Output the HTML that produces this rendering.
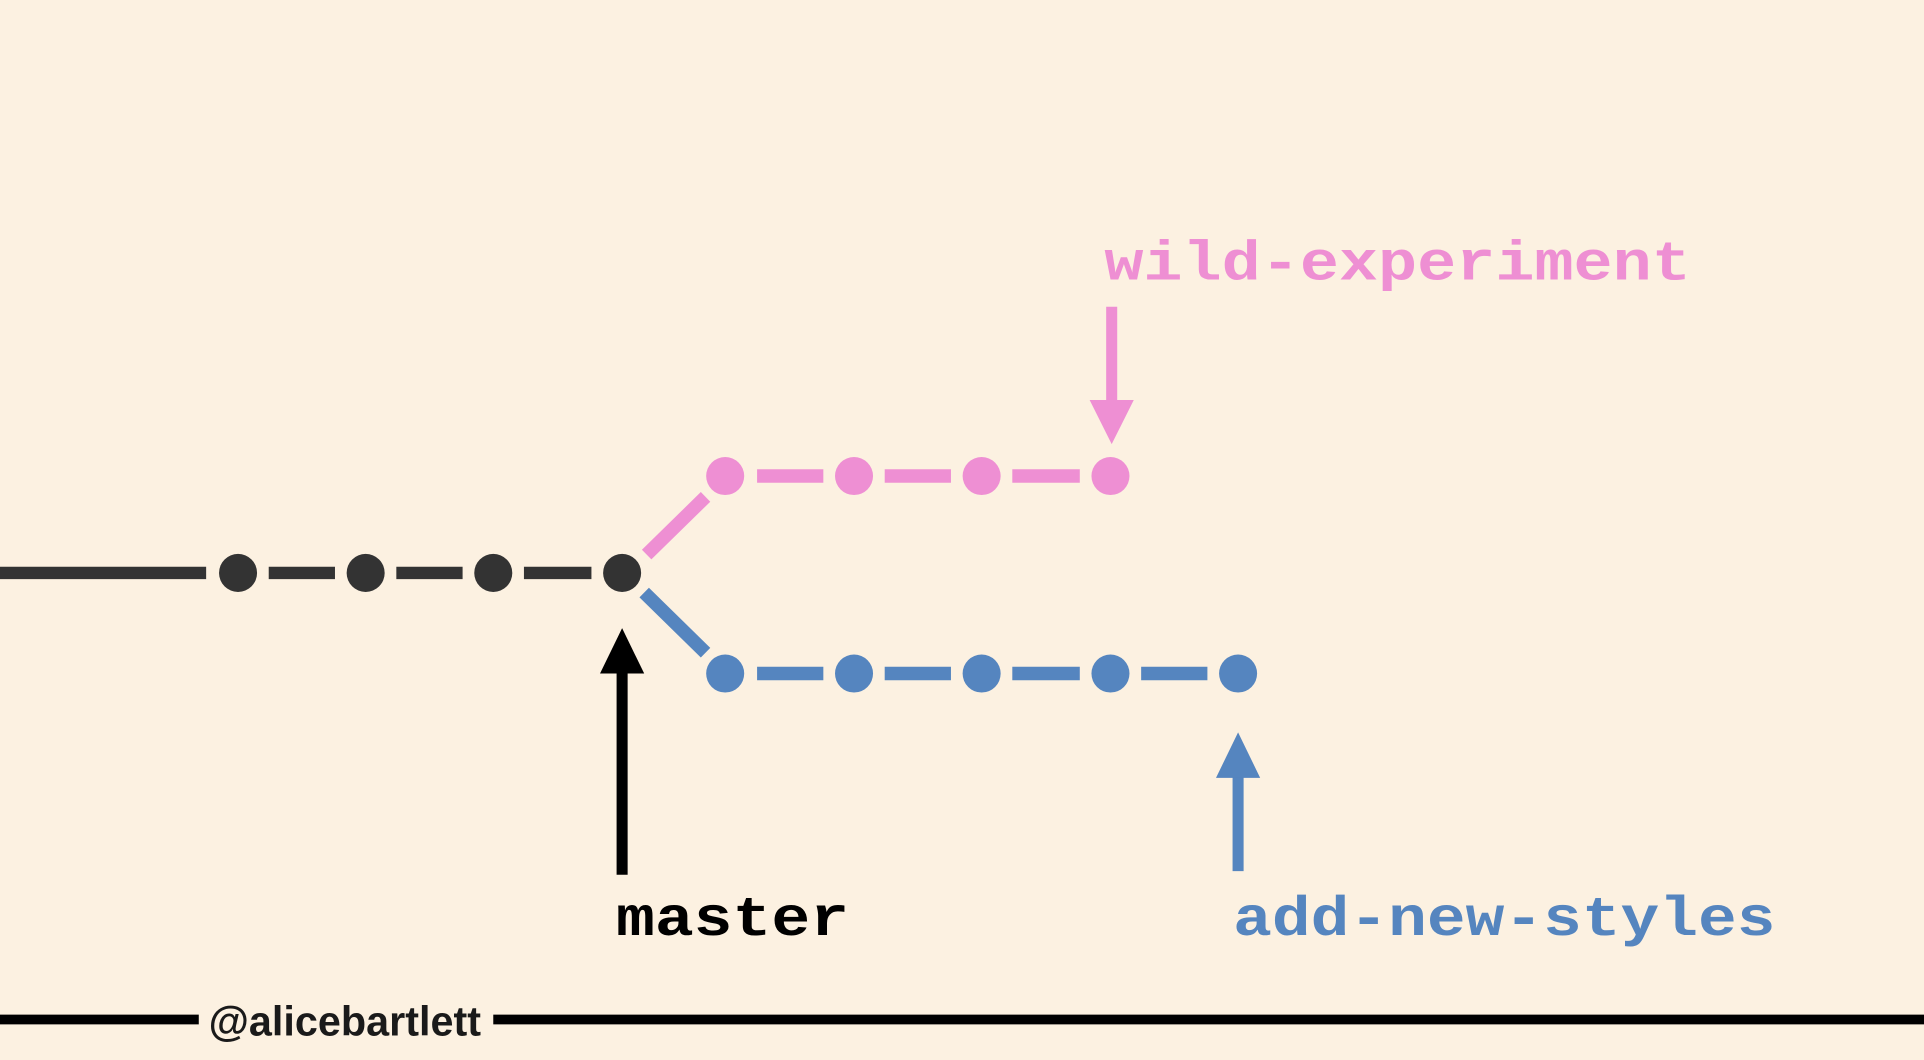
<!DOCTYPE html>
<html><head><meta charset="utf-8"><style>
html,body{margin:0;padding:0;background:#fcf1e1;}
svg{display:block;}
</style></head><body>
<svg width="1924" height="1060" viewBox="0 0 1568 864" preserveAspectRatio="none" xmlns="http://www.w3.org/2000/svg">
<rect width="1568" height="864" fill="#fcf1e1"/>
<g stroke="#333" stroke-width="10">
<line x1="0" y1="467" x2="168" y2="467"/>
<line x1="219" y1="467" x2="273" y2="467"/>
<line x1="323" y1="467" x2="377" y2="467"/>
<line x1="427" y1="467" x2="482" y2="467"/>
</g>
<g fill="#333">
<circle cx="194" cy="467" r="15.5"/><circle cx="298" cy="467" r="15.5"/>
<circle cx="402" cy="467" r="15.5"/><circle cx="507" cy="467" r="15.5"/>
</g>
<g stroke="#ee8fd3" stroke-width="11">
<line x1="527" y1="452" x2="575" y2="405"/>
<line x1="617" y1="388" x2="671" y2="388"/>
<line x1="721" y1="388" x2="775" y2="388"/>
<line x1="825" y1="388" x2="880" y2="388"/>
</g>
<g fill="#ee8fd3">
<circle cx="591" cy="388" r="15.5"/><circle cx="696" cy="388" r="15.5"/>
<circle cx="800" cy="388" r="15.5"/><circle cx="905" cy="388" r="15.5"/>
</g>
<g stroke="#5585bf" stroke-width="11">
<line x1="525" y1="483" x2="575" y2="532"/>
<line x1="617" y1="549" x2="671" y2="549"/>
<line x1="721" y1="549" x2="775" y2="549"/>
<line x1="825" y1="549" x2="880" y2="549"/>
<line x1="930" y1="549" x2="984" y2="549"/>
</g>
<g fill="#5585bf">
<circle cx="591" cy="549" r="15.5"/><circle cx="696" cy="549" r="15.5"/>
<circle cx="800" cy="549" r="15.5"/><circle cx="905" cy="549" r="15.5"/>
<circle cx="1009" cy="549" r="15.5"/>
</g>
<line x1="507" y1="713" x2="507" y2="545" stroke="#000" stroke-width="9"/>
<polygon points="507,512 489,549 525,549" fill="#000"/>
<line x1="1009" y1="710" x2="1009" y2="628" stroke="#5585bf" stroke-width="9"/>
<polygon points="1009,597 991,634 1027,634" fill="#5585bf"/>
<line x1="906" y1="250" x2="906" y2="332" stroke="#ee8fd3" stroke-width="9"/>
<polygon points="906,362 888,326 924,326" fill="#ee8fd3"/>
<g font-family="'Liberation Mono', monospace" font-weight="bold" font-size="45">
<text x="900" y="228" fill="#ee8fd3" textLength="478" lengthAdjust="spacingAndGlyphs">wild-experiment</text>
<text x="502" y="762" fill="#000" textLength="190" lengthAdjust="spacingAndGlyphs">master</text>
<text x="1005" y="762" fill="#5585bf" textLength="442" lengthAdjust="spacingAndGlyphs">add-new-styles</text>
</g>
<line x1="0" y1="831" x2="162" y2="831" stroke="#000" stroke-width="8"/>
<line x1="402" y1="831" x2="1568" y2="831" stroke="#000" stroke-width="8"/>
<text x="170" y="844" font-family="'Liberation Sans', sans-serif" font-weight="bold" font-size="34" fill="#1a1a1a" textLength="222" lengthAdjust="spacingAndGlyphs">@alicebartlett</text>
</svg>
</body></html>
